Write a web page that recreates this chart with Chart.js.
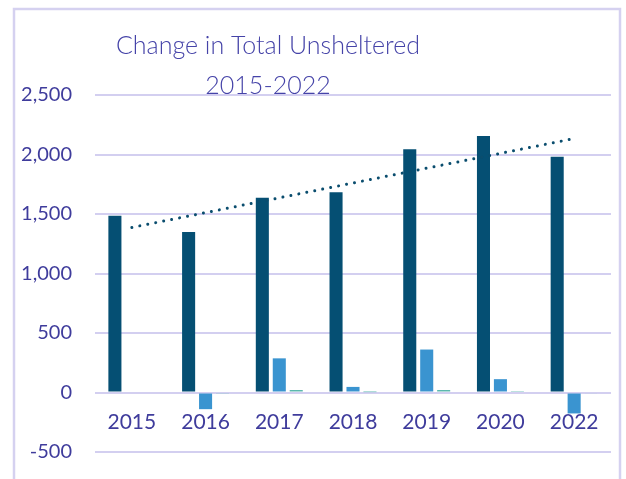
<!DOCTYPE html>
<html>
<head>
<meta charset="utf-8">
<script src="https://cdn.jsdelivr.net/npm/chart.js@4"></script>
<style>
  html, body { margin: 0; padding: 0; background: #ffffff; overflow: hidden; }
  canvas { display: block; }
</style>
</head>
<body>
<canvas id="chart" width="626" height="479"></canvas>
<script>
// Data
const years = ['2015', '2016', '2017', '2018', '2019', '2020', '2022'];
const totalUnsheltered = [1486, 1349, 1636, 1683, 2044, 2156, 1982];
const changeFromPrior = [0, -140, 287, 47, 361, 112, -176];
const percentChange = [0, -10, 21, 3, 21, 5, -8];
// dotted trendline, ends
const trendValues = [1387, null, null, null, null, null, 2134];
const titleLines = ['Change in Total Unsheltered', '2015-2022'];
const yMin = -500;
const yMax = 2500;
const yStep = 500;

const purple = '#3f3c9c';
const gridColor = '#d3cff0';

// title sits off-centre in the original, so draw it by hand
const titlePlugin = {
    id: 'titlePlugin',
    afterDraw(chart) {
        const c = chart.ctx;
        c.save();
        c.fillStyle = '#4543a8';
        c.font = '300 25px Lato';
        c.textAlign = 'center';
        c.textBaseline = 'alphabetic';
        c.fillText(titleLines[0], 268, 54);
        c.fillText(titleLines[1], 268, 94);
        c.restore();
    }
};

const framePlugin = {
    id: 'framePlugin',
    beforeDraw(chart) {
        const c = chart.ctx;
        c.save();
        c.strokeStyle = '#d5d1f0';
        c.lineWidth = 2.5;
        c.strokeRect(14, 9, 606, 500);
        c.restore();
    }
};

const ctx = document.getElementById('chart').getContext('2d');
const myChart = new Chart(ctx, {
    type: 'bar',
    data: {
        labels: years,
        datasets: [{
            type: 'line',
            label: 'Linear (Total Unsheltered)',
            data: trendValues,
            borderColor: '#0a4d6e',
            borderWidth: 3,
            borderDash: [0.01, 8.1],
            borderCapStyle: 'round',
            pointRadius: 0,
            spanGaps: true,
            fill: false,
            order: 0
        }, {
            label: 'Total Unsheltered',
            data: totalUnsheltered,
            backgroundColor: '#054f73',
            order: 1
        }, {
            label: 'Change',
            data: changeFromPrior,
            backgroundColor: '#3a94d0',
            order: 1
        }, {
            label: '% Change',
            data: percentChange,
            backgroundColor: '#5cb8ae',
            order: 1
        }]
    },
    options: {
        responsive: false,
        animation: false,
        datasets: {
            bar: {
                categoryPercentage: 0.69,
                barPercentage: 0.77
            }
        },
        layout: {
            padding: { top: 95, right: 15, bottom: 27, left: 0 }
        },
        plugins: {
            legend: { display: false },
            tooltip: { enabled: false },
            title: { display: false }
        },
        scales: {
            x: {
                position: { y: 0 },
                grid: { display: false, drawTicks: false },
                border: { display: false },
                ticks: {
                    color: purple,
                    font: { family: 'Lato', size: 21 },
                    padding: 17,
                    maxRotation: 0
                },
                afterFit(scale) {
                    // axis sits on the zero line, so it takes no room at the bottom
                    scale.height = 0;
                }
            },
            y: {
                min: yMin,
                max: yMax,
                grid: { color: gridColor, lineWidth: 2, drawTicks: false },
                border: { display: false },
                ticks: {
                    stepSize: yStep,
                    color: purple,
                    font: { family: 'Lato', size: 20 },
                    padding: 23
                },
                afterFit(scale) {
                    scale.width = 95;
                    // tick padding would otherwise be added above and below the plot
                    scale.paddingTop = 0;
                    scale.paddingBottom = 0;
                }
            }
        }
    },
    plugins: [framePlugin, titlePlugin]
});
</script>
</body>
</html>
